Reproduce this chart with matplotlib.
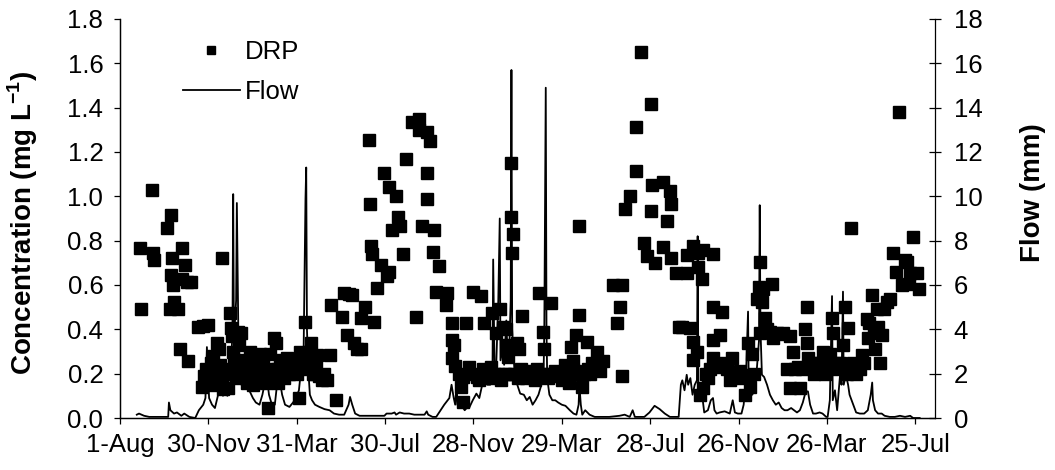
import matplotlib
matplotlib.use("Agg")
import matplotlib.pyplot as plt
import numpy as np

plt.rcParams['font.family'] = ['Liberation Sans', 'DejaVu Sans']
plt.rcParams['mathtext.fontset'] = 'custom'
plt.rcParams['mathtext.rm'] = 'Liberation Sans'
plt.rcParams['mathtext.bf'] = 'Liberation Sans:bold'

# x values: days since 1-Aug (first year)
tick_days = [0, 121, 242, 363, 484, 605, 726, 847, 968, 1089]
tick_labels = ['1-Aug', '30-Nov', '31-Mar', '30-Jul', '28-Nov', '29-Mar',
               '28-Jul', '26-Nov', '26-Mar', '25-Jul']

drp_days = [
    27, 29, 44, 45, 46, 64, 70, 71, 70, 72, 74, 69, 80, 85, 89, 85, 92, 97, 82, 93, 107, 113, 121, 140,
    112, 115, 118, 121, 124, 126, 128, 130, 133, 135, 137, 139, 141, 143, 146, 148, 150, 152, 154, 155,
    156, 157, 159, 160, 161, 163, 164, 166, 168, 170, 172, 174, 176, 178, 180, 182, 184, 186, 188, 190,
    192, 194, 196, 198, 200, 203, 205, 207, 209, 211, 213, 215, 217, 219, 222, 224, 226, 229, 231, 233,
    235, 238, 241, 242, 245, 247, 250, 253, 255, 257, 259, 262, 264, 266, 268, 270, 273, 276, 280, 284,
    287, 289, 296,
    304, 307, 311, 313, 317, 321, 325, 330, 330, 335, 341, 343, 344, 345, 348, 352, 358, 362, 365, 369,
    369, 372, 378, 380, 383, 387, 392, 400, 406, 410, 410, 413, 420, 421, 421, 425, 428, 430, 433, 437,
    447, 448, 454, 455, 455, 458, 459, 464, 467, 469, 470, 474, 478, 483, 486, 489, 492, 495, 497, 499,
    502, 505, 508, 510, 512, 515, 518, 520, 522, 525, 527, 529, 530, 531, 533, 535, 536, 538, 537, 540,
    543, 545, 547, 549, 551, 553, 556, 559, 562, 565, 568, 571, 574, 576, 579, 580, 583, 586, 590, 593,
    596, 599, 602, 605, 609, 612, 615, 618, 620, 623, 625, 627, 629, 629, 633, 636, 639, 641, 643, 646,
    650, 653, 657, 661,
    675, 680, 684, 688, 688, 691, 698, 706, 707, 713, 717, 721, 727, 727, 729, 733, 743, 743, 749, 753,
    754, 755, 762, 766, 770, 776, 777, 780, 784,
    784, 784, 790, 791, 791, 797, 798, 798, 794, 803, 805, 808, 812, 812, 812, 812, 817, 821, 825, 828,
    831, 835, 838, 842, 846, 849, 852, 856, 860, 862, 865, 868, 872, 875, 876, 876, 879, 880, 883, 886,
    890, 893, 894, 899, 904, 908, 913, 917, 917, 921, 924, 928, 931, 934, 938, 941, 941, 942, 946, 950,
    954, 958, 962, 965, 968, 972, 975, 976, 979, 982, 986, 990, 993, 995, 997, 1001, 1004, 1008, 1013, 1016,
    1019, 1023, 1024, 1026, 1030, 1032, 1034, 1036, 1038, 1041, 1044, 1046, 1050, 1054, 1058, 1063, 1067, 1071, 1075, 1078,
    1081, 1082, 1086, 1091, 1094,
]

drp_conc = [
    0.765, 0.49, 1.03, 0.745, 0.715, 0.855, 0.915, 0.72, 0.645, 0.6, 0.525, 0.49, 0.49, 0.765, 0.69, 0.625, 0.615, 0.615, 0.31, 0.255, 0.41, 0.415, 0.42, 0.72,
    0.14, 0.19, 0.22, 0.17, 0.25, 0.15, 0.28, 0.2, 0.34, 0.31, 0.24, 0.17, 0.13, 0.22, 0.2, 0.135, 0.475, 0.405, 0.37, 0.3,
    0.25, 0.2, 0.22, 0.18, 0.39, 0.33, 0.26, 0.385, 0.2, 0.25, 0.18, 0.16, 0.22, 0.3, 0.2, 0.15, 0.2, 0.185, 0.27, 0.21,
    0.29, 0.2, 0.24, 0.17, 0.16, 0.045, 0.29, 0.22, 0.18, 0.36, 0.34, 0.22, 0.16, 0.26, 0.2, 0.18, 0.23, 0.27, 0.2, 0.26,
    0.23, 0.25, 0.23, 0.2, 0.09, 0.3, 0.25, 0.435, 0.27, 0.22, 0.3, 0.34, 0.2, 0.2, 0.25, 0.285, 0.19, 0.17, 0.2, 0.17,
    0.285, 0.51, 0.08,
    0.455, 0.565, 0.375, 0.56, 0.555, 0.34, 0.31, 0.45, 0.31, 0.5, 1.255, 0.965, 0.775, 0.74, 0.435, 0.585, 0.69, 1.105, 0.64, 0.66,
    1.04, 0.85, 1.0, 0.905, 0.865, 0.74, 1.17, 1.335, 0.457, 1.35, 1.30, 0.865, 1.29, 1.105, 0.99, 1.25, 0.75, 0.85, 0.57, 0.685,
    0.51, 0.565, 0.35, 0.43, 0.27, 0.33, 0.235, 0.2, 0.14, 0.185, 0.07, 0.43, 0.23, 0.57, 0.2, 0.185, 0.17, 0.55, 0.22, 0.43,
    0.2, 0.18, 0.23, 0.475, 0.2, 0.385, 0.2, 0.49, 0.17, 0.41, 0.2, 0.4, 0.33, 0.275, 0.2, 1.15, 0.905, 0.83, 0.745, 0.2,
    0.34, 0.18, 0.31, 0.22, 0.46, 0.2, 0.18, 0.2, 0.21, 0.2, 0.17, 0.22, 0.565, 0.2, 0.39, 0.31, 0.2, 0.18, 0.52, 0.2,
    0.21, 0.19, 0.2, 0.17, 0.24, 0.2, 0.16, 0.32, 0.255, 0.21, 0.375, 0.2, 0.865, 0.465, 0.14, 0.2, 0.345, 0.22, 0.2, 0.25,
    0.22, 0.3, 0.21, 0.255,
    0.6, 0.43, 0.5, 0.6, 0.19, 0.945, 1.0, 1.315, 1.115, 1.65, 0.79, 0.73, 1.415, 0.935, 1.05, 0.70, 1.065, 0.77, 0.89, 1.025,
    0.965, 0.72, 0.655, 0.41, 0.41, 0.655, 0.735, 0.405, 0.775,
    0.345, 0.26, 0.3, 0.745, 0.68, 0.625, 0.76, 0.135, 0.105, 0.2, 0.18, 0.22, 0.74, 0.5, 0.35, 0.27, 0.23, 0.375, 0.48, 0.25,
    0.22, 0.17, 0.27, 0.2, 0.18, 0.21, 0.195, 0.105, 0.34, 0.14, 0.29, 0.2, 0.535, 0.59, 0.705, 0.385, 0.525, 0.58, 0.45, 0.4,
    0.39, 0.605, 0.36, 0.385, 0.38, 0.385, 0.22, 0.37, 0.135, 0.3, 0.22, 0.23, 0.135, 0.22, 0.4, 0.5, 0.34, 0.27, 0.25, 0.2,
    0.25, 0.22, 0.3, 0.2, 0.25, 0.29, 0.45, 0.385, 0.22, 0.25, 0.25, 0.33, 0.5, 0.2, 0.405, 0.855, 0.25, 0.2, 0.22, 0.285,
    0.25, 0.445, 0.36, 0.43, 0.555, 0.385, 0.31, 0.49, 0.41, 0.25, 0.375, 0.49, 0.525, 0.535, 0.745, 0.66, 1.38, 0.6, 0.715, 0.705,
    0.605, 0.655, 0.815, 0.655, 0.58,
]

flow_days = [
    23, 26, 33, 40, 53, 66, 67, 69, 74, 78, 84, 88, 95, 103, 108, 114, 117, 119, 122, 126,
    130, 134, 137, 141, 144, 147, 151, 154, 155, 156, 159, 160, 162, 164, 169, 173, 177, 182, 186, 191,
    195, 199, 202, 204, 208, 212, 215, 218, 222, 226, 232, 237, 241, 245, 248, 251, 254, 255, 256, 258,
    260, 263, 267, 273, 280, 287, 293, 300, 307, 313, 315, 318, 322, 328, 341, 355, 362, 365, 372, 376,
    378, 383, 389, 396, 403, 410, 417, 420, 422, 428, 433, 437, 444, 451, 454, 457, 459, 461, 462, 465,
    469, 472, 476, 478, 483, 488, 492, 496, 500, 503, 507, 510, 511, 513, 515, 518, 520, 521, 524, 526,
    529, 531, 533, 535, 536, 537, 540, 544, 548, 553, 557, 561, 565, 569, 573, 577, 580, 581, 583, 584,
    585, 588, 592, 596, 600, 605, 610, 616, 621, 625, 628, 629, 631, 633, 637, 643, 650, 657, 670, 684,
    691, 698, 702, 705, 712, 718, 725, 732, 739, 746, 753, 760, 765, 768, 770, 773, 776, 778, 781, 784,
    787, 790, 791, 792, 795, 798, 800, 805, 809, 812, 814, 817, 821, 828, 835, 839, 842, 846, 851, 854,
    857, 860, 861, 864, 866, 869, 872, 875, 876, 877, 879, 882, 886, 890, 894, 898, 902, 906, 910, 914,
    919, 923, 927, 931, 935, 939, 942, 945, 949, 953, 958, 962, 967, 969, 972, 975, 976, 979, 982, 986,
    988, 990, 991, 994, 997, 999, 1004, 1008, 1013, 1019, 1024, 1028, 1030, 1031, 1034, 1038, 1043, 1047, 1054, 1061,
    1068, 1075, 1082, 1086, 1095,
]

flow_mm = [
    0.15, 0.2, 0.1, 0.05, 0.05, 0.05, 0.7, 0.35, 0.2, 0.25, 0.1, 0.2, 0.05, 0.0, 0.35, 0.6, 0.9, 3.2, 0.9, 0.6,
    0.45, 1.0, 1.6, 1.0, 1.5, 1.0, 1.35, 4.0, 10.1, 3.5, 5.3, 9.7, 4.0, 2.2, 1.7, 1.85, 1.25, 0.9, 0.7, 0.6,
    1.05, 1.7, 1.6, 1.05, 0.6, 0.6, 1.5, 1.85, 1.05, 0.6, 0.5, 0.7, 0.9, 1.25, 2.2, 1.9, 9.9, 11.3, 4.0, 2.1,
    1.05, 0.8, 0.6, 0.5, 0.4, 0.35, 0.2, 0.15, 0.15, 0.6, 0.95, 0.6, 0.2, 0.1, 0.1, 0.1, 0.1, 0.2, 0.2, 0.25,
    0.15, 0.25, 0.2, 0.2, 0.15, 0.15, 0.15, 0.3, 0.15, 0.05, 0.05, 0.25, 0.6, 0.9, 1.5, 0.9, 0.6, 1.6, 0.6, 0.45,
    0.5, 0.35, 0.5, 0.45, 0.8, 1.1, 0.9, 1.5, 1.8, 1.5, 1.5, 1.7, 7.15, 1.95, 2.2, 5.3, 9.0, 2.6, 3.1, 2.4,
    4.4, 2.6, 3.1, 5.3, 15.7, 4.0, 2.2, 1.5, 1.1, 1.05, 0.8, 0.95, 0.6, 0.8, 1.05, 1.5, 1.95, 4.0, 14.9, 4.0,
    1.8, 1.05, 0.8, 0.8, 0.7, 0.6, 0.55, 0.35, 0.2, 0.15, 0.6, 1.5, 0.6, 0.15, 0.35, 0.15, 0.05, 0.05, 0.05, 0.1,
    0.15, 0.05, 0.35, 0.05, 0.05, 0.05, 0.25, 0.55, 0.4, 0.2, 0.05, 0.05, 0.05, 1.5, 1.7, 1.25, 1.95, 1.5, 1.8, 1.05,
    1.5, 1.7, 8.2, 1.5, 1.05, 0.8, 0.25, 0.35, 0.8, 0.9, 0.35, 0.2, 0.25, 0.3, 0.2, 0.8, 0.25, 0.2, 0.2, 0.6,
    1.7, 4.8, 1.25, 1.5, 1.05, 1.7, 2.2, 3.5, 9.6, 4.0, 1.95, 1.85, 1.5, 1.05, 0.8, 0.6, 0.7, 0.45, 0.35, 0.35,
    0.45, 0.35, 0.25, 0.35, 0.7, 1.2, 1.2, 0.6, 0.2, 0.2, 0.25, 0.2, 0.05, 0.05, 0.8, 5.5, 0.8, 1.25, 0.35, 1.95,
    1.5, 5.7, 1.5, 1.95, 1.5, 1.05, 0.6, 0.25, 0.2, 0.2, 0.35, 1.05, 1.6, 0.8, 0.35, 0.2, 0.2, 0.1, 0.05, 0.05,
    0.1, 0.05, 0.1, 0.0, 0.0,
]

fig = plt.figure(figsize=(10.55, 4.70), dpi=100)
ax = fig.add_axes([120/1055, 52/470, 815/1055, 399/470])
ax2 = ax.twinx()

ax.plot(drp_days, drp_conc, 's', color='black', ms=8, ls='none', label='DRP', zorder=3)
ax2.plot(flow_days, flow_mm, '-', color='black', lw=1.3, label='Flow')

ax.set_xlim(0, 1116)
ax.set_ylim(0, 1.8)
ax2.set_ylim(0, 18)
ax.set_yticks(np.arange(0, 1.81, 0.2))
ax.set_yticklabels([f'{v:.1f}' for v in np.arange(0, 1.81, 0.2)])
ax2.set_yticks(np.arange(0, 19, 2))
ax.set_xticks(tick_days)
ax.set_xticklabels(tick_labels)

for a in (ax, ax2):
    a.spines['top'].set_visible(False)
    for s in a.spines.values():
        s.set_linewidth(0.9)
ax.spines['right'].set_visible(False)

ax.tick_params(axis='y', direction='out', length=4, width=0.9, pad=8, labelsize=18.5)
ax.tick_params(axis='x', direction='out', length=4, width=0.9, pad=7, labelsize=18.5)
ax2.tick_params(axis='y', direction='inout', length=9, width=0.9, pad=9, labelsize=18.5)

ax.set_ylabel(r'Concentration (mg L$^{\mathbf{-1}}$)', fontsize=20, fontweight='bold')
ax.yaxis.set_label_coords(-0.098, 0.49)
ax2.set_ylabel('Flow (mm)', fontsize=20, fontweight='bold', rotation=90)
ax2.yaxis.set_label_coords(1.104, 0.566)

h1, l1 = ax.get_legend_handles_labels()
h2, l2 = ax2.get_legend_handles_labels()
leg = fig.legend(h1 + h2, l1 + l2, loc='upper left', bbox_to_anchor=(183/1055, 1 - 40/470),
                 frameon=False, fontsize=18.5, handlelength=2.2, handletextpad=0.2,
                 labelspacing=0.61, markerscale=0.7, borderaxespad=0, borderpad=0)

fig.savefig('out.png', dpi=100)
